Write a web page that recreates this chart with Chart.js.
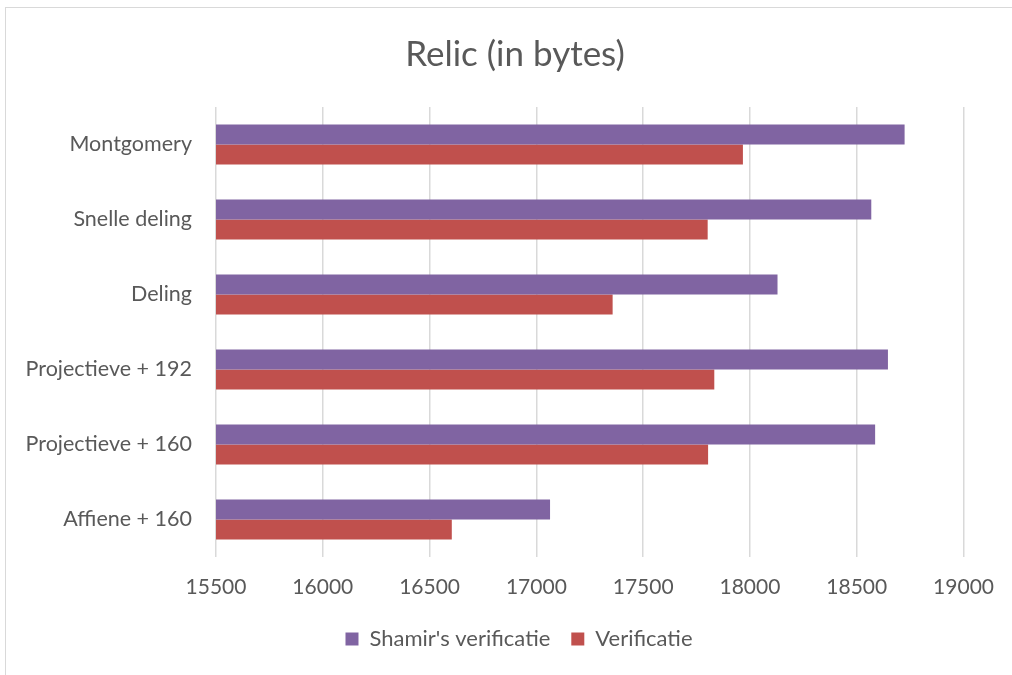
<!DOCTYPE html>
<html>
<head>
<meta charset="utf-8">
<script src="https://cdn.jsdelivr.net/npm/chart.js@4/dist/chart.umd.min.js"></script>
<style>
  html, body { margin: 0; padding: 0; background: #fff; }
  #wrap { position: relative; width: 1012px; height: 675px; }
  #frame { position: absolute; left: 5px; top: 7px; right: 0; bottom: 0;
           border-left: 1px solid #d9d9d9; border-top: 1px solid #d9d9d9; pointer-events: none; }
</style>
</head>
<body>
<div id="wrap">
  <canvas id="chart" width="1012" height="675"></canvas>
  <div id="frame"></div>
</div>
<script>
// chart data
const categories = ["Montgomery", "Snelle deling", "Deling", "Projectieve + 192", "Projectieve + 160", "Affiene + 160"];
const shamirValues = [18724, 18568, 18129, 18646, 18586, 17064];
const verificatieValues = [17967, 17802, 17357, 17833, 17804, 16604];
const seriesNames = ["Shamir's verificatie", "Verificatie"];
const xMin = 15500, xMax = 19000, xStep = 500;

const textColor = "#595959";
const fontFamily = "Lato, 'Open Sans', sans-serif";

// title and legend sit centred on the whole chart, not on the plot, so nudge them
const shiftBlocks = {
  id: "shiftBlocks",
  afterLayout(chart) {
    if (chart.titleBlock) chart.titleBlock.left = 65;
    if (chart.legend) chart.legend.left = 73;
  }
};

const ctx = document.getElementById("chart").getContext("2d");

new Chart(ctx, {
  type: "bar",
  data: {
    labels: categories,
    datasets: [
      { label: seriesNames[0], data: shamirValues, backgroundColor: "#8064A2" },
      { label: seriesNames[1], data: verificatieValues, backgroundColor: "#C0504D" }
    ]
  },
  plugins: [shiftBlocks],
  options: {
    indexAxis: "y",
    responsive: false,
    animation: false,
    categoryPercentage: 0.533,
    barPercentage: 1,
    layout: { padding: { left: 0, right: 47, top: 0, bottom: 15 } },
    plugins: {
      title: {
        display: true,
        text: "Relic (in bytes)",
        color: textColor,
        font: { family: fontFamily, size: 35, weight: "normal" },
        padding: { top: 34, bottom: 31 }
      },
      legend: {
        position: "bottom",
        labels: {
          color: textColor,
          font: { family: fontFamily, size: 22 },
          boxWidth: 13,
          boxHeight: 13,
          padding: 21
        }
      },
      tooltip: { enabled: false }
    },
    scales: {
      x: {
        min: xMin,
        max: xMax,
        ticks: {
          stepSize: xStep,
          color: textColor,
          font: { family: fontFamily, size: 21 },
          padding: 18,
          callback: (v) => String(v)
        },
        grid: { color: "#d9d9d9", lineWidth: 1.5, drawTicks: false },
        border: { display: false },
        afterFit: (scale) => { scale.height = 50; }
      },
      y: {
        ticks: { color: textColor, font: { family: fontFamily, size: 21.5 }, padding: 16 },
        grid: { display: false },
        border: { display: false },
        afterFit: (scale) => { scale.width = 216; }
      }
    }
  }
});
</script>
</body>
</html>
